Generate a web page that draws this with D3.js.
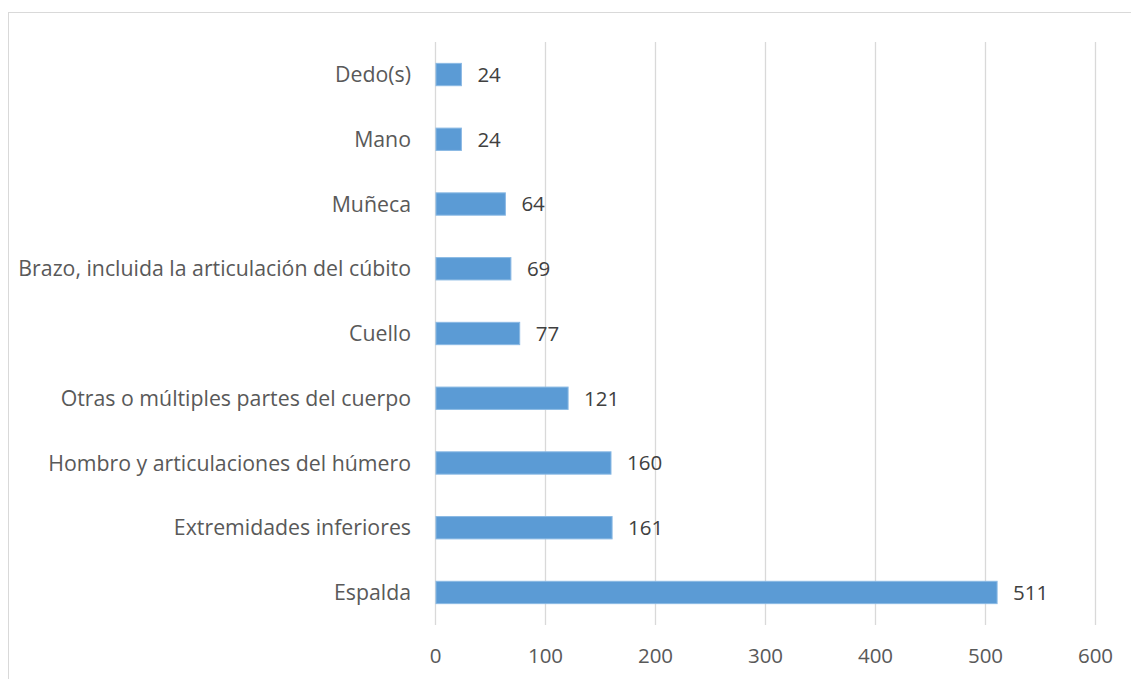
<!DOCTYPE html>
<html>
<head>
<meta charset="utf-8">
<script src="https://cdn.jsdelivr.net/npm/d3@7"></script>
<style>
  html, body { margin: 0; padding: 0; background: #fff; }
  svg { display: block; font-family: "Open Sans", sans-serif; }
</style>
</head>
<body>
<svg id="chart" width="1131" height="679"></svg>
<script>
// categories top to bottom, as in the picture
const categories = [
  'Dedo(s)',
  'Mano',
  'Muñeca',
  'Brazo, incluida la articulación del cúbito',
  'Cuello',
  'Otras o múltiples partes del cuerpo',
  'Hombro y articulaciones del húmero',
  'Extremidades inferiores',
  'Espalda'
];
const values = [24, 24, 64, 69, 77, 121, 160, 161, 511];
const xTicks = [0, 100, 200, 300, 400, 500, 600];

const svg = d3.select('#chart');

// outer chart frame (runs off the right and bottom edges)
svg.append('rect')
  .attr('x', 8.5).attr('y', 12.5)
  .attr('width', 1200).attr('height', 800)
  .style('fill', 'none')
  .style('stroke', '#d9d9d9')
  .style('stroke-width', '1px');

const plot = { left: 435, right: 1095, top: 42, bottom: 625 };

const x = d3.scaleLinear()
  .domain([0, 600])
  .range([plot.left, plot.right]);

const y = d3.scaleBand()
  .domain(categories)
  .range([plot.top, plot.bottom])
  .paddingInner(0.655)
  .paddingOuter(0.33);

// gridlines
svg.append('g')
  .selectAll('line')
  .data(xTicks)
  .join('line')
  .attr('x1', d => Math.round(x(d)) + 0.5)
  .attr('x2', d => Math.round(x(d)) + 0.5)
  .attr('y1', plot.top)
  .attr('y2', plot.bottom)
  .style('stroke', '#d9d9d9')
  .style('stroke-width', '1.3px');

// bars
svg.append('g')
  .selectAll('rect')
  .data(values)
  .join('rect')
  .attr('x', x(0) + 1)
  .attr('y', (d, i) => y(categories[i]))
  .attr('width', d => x(d) - x(0) - 1)
  .attr('height', y.bandwidth())
  .style('fill', '#5b9bd5')
  .style('stroke', '#8ab9e4')
  .style('stroke-width', '1px');

// value labels
svg.append('g')
  .selectAll('text')
  .data(values)
  .join('text')
  .attr('x', d => x(d) + 16)
  .attr('y', (d, i) => y(categories[i]) + y.bandwidth() / 2)
  .attr('dy', '0.36em')
  .style('font-size', '20.5px')
  .style('fill', '#404040')
  .text(d => d);

// category labels
svg.append('g')
  .selectAll('text')
  .data(categories)
  .join('text')
  .attr('x', plot.left - 24)
  .attr('y', d => y(d) + y.bandwidth() / 2)
  .attr('dy', '0.36em')
  .attr('text-anchor', 'end')
  .style('font-size', '21.3px')
  .style('fill', '#595959')
  .text(d => d);

// x tick labels
const xAxis = d3.axisBottom(x)
  .tickValues(xTicks)
  .tickSize(0)
  .tickPadding(0);

const axisG = svg.append('g')
  .attr('transform', `translate(0,${plot.bottom + 23})`)
  .call(xAxis);
axisG.select('.domain').remove();
axisG.selectAll('text')
  .style('font-family', '"Open Sans", sans-serif')
  .style('font-size', '20.5px')
  .style('fill', '#595959');
</script>
</body>
</html>
